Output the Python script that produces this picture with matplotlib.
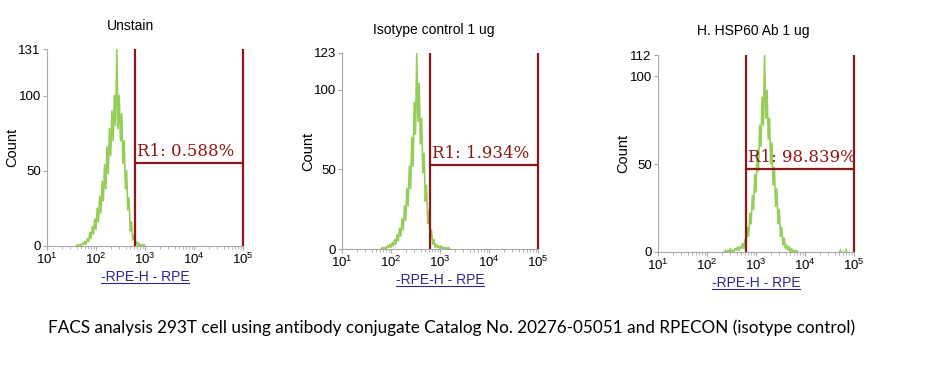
import matplotlib
matplotlib.use("Agg")
import matplotlib.pyplot as plt
import matplotlib.ticker as mticker
from matplotlib.lines import Line2D
import numpy as np

plt.rcParams['font.family'] = ['Liberation Sans', 'DejaVu Sans']
plt.rcParams['mathtext.default'] = 'regular'

# --- data ---
titles = ["Unstain", "Isotype control 1 ug", "H. HSP60 Ab 1 ug"]
y_tops = [131, 123, 112]
gate_pct = ["0.588%", "1.934%", "98.839%"]
gate_lo = 625          # RPE value of left gate edge
gate_hi = 1e5
gate_level = [55, 52.7, 47.2]   # count level of the horizontal gate bar

step = 0.025   # channel width in log10 units
start_unstain = 1.60
counts_unstain = [0, 1, 0, 1, 0, 2, 1, 3, 1, 5, 3, 9, 5, 13, 8, 18, 11, 25, 16, 33,
                  22, 43, 30, 54, 38, 66, 48, 78, 60, 90, 70, 100, 80, 131, 78, 100,
                  70, 88, 55, 70, 38, 50, 24, 32, 10, 16, 4, 7, 1, 3, 0, 2, 0, 1, 0, 1, 0]

start_isotype = 1.80
counts_isotype = [0, 1, 0, 1, 0, 2, 1, 3, 1, 4, 2, 6, 3, 9, 5, 13, 8, 19, 12, 27,
                  18, 38, 27, 52, 38, 70, 52, 92, 72, 123, 80, 104, 66, 82, 48, 60,
                  30, 40, 16, 24, 7, 12, 3, 6, 1, 3, 1, 2, 0, 2, 0, 1, 0, 1, 0, 1, 0]

start_hsp60 = 2.35
counts_hsp60 = [0, 1, 0, 1, 0, 2, 0, 1, 0, 2, 1, 3, 1, 3, 2, 5, 2, 7, 5, 14,
                9, 22, 16, 32, 24, 44, 34, 58, 46, 72, 60, 88, 72, 112, 76, 92,
                64, 76, 50, 62, 38, 48, 26, 36, 16, 24, 9, 14, 4, 8, 2, 4, 1, 3,
                0, 2, 0, 1, 0, 1, 0]

# a few stray events near the top of the range (HSP60 panel)
stray_hsp60_log = [4.70, 4.72, 4.74, 4.82, 4.84, 4.86]
stray_hsp60_cnt = [0, 1.5, 0, 0, 2, 0]

starts = [start_unstain, start_isotype, start_hsp60]
counts = [counts_unstain, counts_isotype, counts_hsp60]

# --- layout (figure fractions) ---
fig = plt.figure(figsize=(9.53, 3.66), dpi=100)
axes_rects = [
    [47 / 953, 120 / 366, 196 / 953, 197 / 366],
    [342 / 953, 117 / 366, 196 / 953, 196 / 366],
    [658 / 953, 114 / 366, 196 / 953, 197 / 366],
]
title_xy = [(131, 26), (434, 30), (753, 31)]
ylabel_x = [12, 308, 623]

green = '#94CD58'
gate_col = '#8E1616'
grey = '#A8A8A8'

xlabels = []
for i in range(3):
    ax = fig.add_axes(axes_rects[i])
    c = np.array(counts[i])
    lx = starts[i] + step * np.arange(len(c))
    ax.plot(10 ** lx, c, color=green, lw=1.2)
    if i == 2:
        ax.plot(10 ** np.array(stray_hsp60_log), stray_hsp60_cnt, color=green, lw=0.8)

    ax.set_xscale('log')
    ax.set_xlim(10, 1e5)
    ax.set_ylim(0, y_tops[i])

    # gate
    ax.plot([gate_lo, gate_lo], [0, y_tops[i]], color=gate_col, lw=1.6, solid_capstyle='butt')
    ax.plot([gate_hi, gate_hi], [0, y_tops[i]], color=gate_col, lw=1.6, solid_capstyle='butt', clip_on=False)
    ax.plot([gate_lo, gate_hi], [gate_level[i], gate_level[i]], color=gate_col, lw=1.6)
    ax.annotate("R1: " + gate_pct[i], xy=(gate_lo, gate_level[i]), xytext=(1.2, 2.5),
                textcoords='offset points', ha='left', va='bottom',
                fontsize=12, family='DejaVu Serif', color=gate_col)

    for s in ['top', 'right']:
        ax.spines[s].set_visible(False)
    for s in ['left', 'bottom']:
        ax.spines[s].set_color(grey)
        ax.spines[s].set_linewidth(0.8)

    ax.set_yticks([0, 50, 100, y_tops[i]])
    ax.xaxis.set_major_locator(mticker.LogLocator(base=10, numticks=10))
    ax.xaxis.set_minor_locator(mticker.LogLocator(base=10, subs=np.arange(2, 10), numticks=10))
    ax.xaxis.set_minor_formatter(mticker.NullFormatter())
    ax.xaxis.set_major_formatter(mticker.FuncFormatter(lambda v, p: r'$10^{%d}$' % round(np.log10(v))))
    ax.tick_params(axis='both', which='major', colors=grey, labelcolor='black',
                   labelsize=9.5, length=3, width=0.8, pad=1.5)
    ax.tick_params(axis='x', which='minor', colors=grey, length=2, width=0.6)

    ax.set_facecolor('none')
    xl = ax.set_xlabel("-RPE-H - RPE", fontsize=10, color='#2A2A8A', labelpad=2)
    xlabels.append(xl)

    fig.text(title_xy[i][0] / 953, 1 - title_xy[i][1] / 366, titles[i],
             ha='center', va='center', fontsize=10)
    ax_mid = axes_rects[i][1] + axes_rects[i][3] / 2
    fig.text(ylabel_x[i] / 953, ax_mid, "Count", rotation=90,
             ha='center', va='center', fontsize=10.5)

fig.text(452 / 953, 1 - 328 / 366,
         "FACS analysis 293T cell using antibody conjugate Catalog No. 20276-05051 and RPECON (isotype control)",
         ha='center', va='center', fontsize=12.3, family=['Lato', 'DejaVu Sans'])

# underline the x labels like the instrument software does
fig.canvas.draw()
for xl in xlabels:
    bb = xl.get_window_extent()
    fig.add_artist(Line2D([bb.x0, bb.x1], [bb.y0 + 1, bb.y0 + 1],
                          transform=None, color='#2A2A8A', lw=0.8))

fig.savefig("out.png", dpi=100)
